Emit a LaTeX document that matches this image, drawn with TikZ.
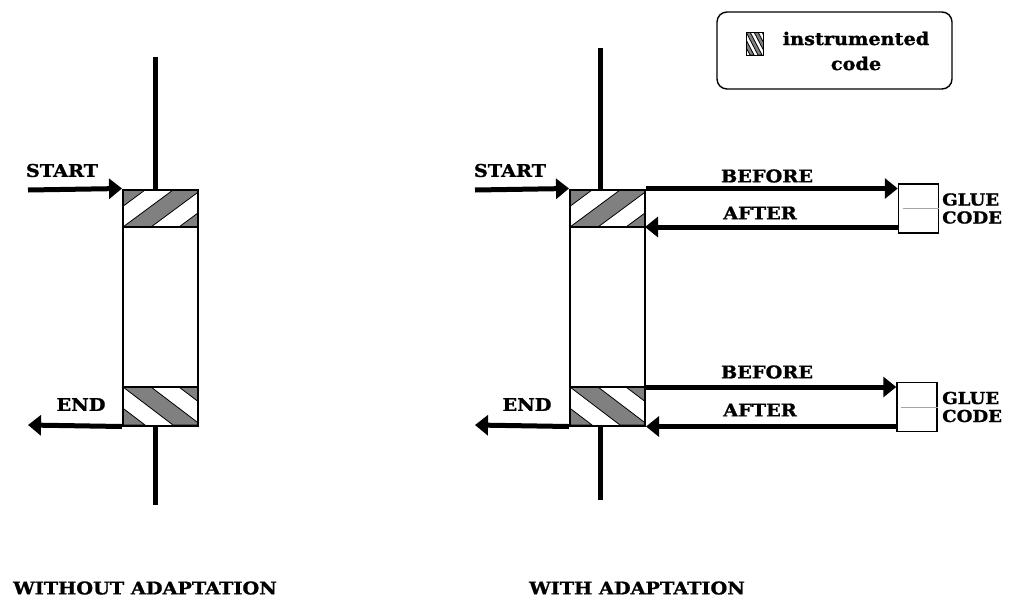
\documentclass[tikz,border=0pt]{standalone}
\usepackage{fontspec}
\setmainfont[FakeStretch=1.1, BoldFeatures={FakeBold=1.2}]{DejaVu Serif}
\usetikzlibrary{arrows.meta,positioning,calc}

% hatched band: x0, x1, y start, y end, run, period
\newcommand{\hatchband}[6]{%
  \begin{scope}
    \clip (#1,#3) rectangle (#2,#4);
    \foreach \s in {-3,...,3}{
      \filldraw[hatchfill] ({#1+\s*#6},#3) -- ({#1+\s*#6+#5},#4)
        -- ({#1+\s*#6+#5+#6/2},#4) -- ({#1+\s*#6+#6/2},#3) -- cycle;
    }
  \end{scope}}

\tikzset{
  hatchfill/.style={fill=black!50, draw=black, line width=0.8pt},
  modbox/.style={draw, line width=2pt, minimum width=75pt, minimum height=236pt, inner sep=0pt},
  gluebox/.style={draw, line width=1.5pt, minimum width=40pt, minimum height=49pt, inner sep=0pt},
  legendbox/.style={draw, line width=1.4pt, rounded corners=10pt, minimum width=235pt, minimum height=77pt},
  flow/.style={line width=5pt, -{Triangle[length=13pt,width=20pt]}},
  stem/.style={line width=5pt},
  lbl/.style={font=\fontsize{17.5}{20}\selectfont\bfseries, inner sep=0pt},
  gluelbl/.style={font=\fontsize{16.5}{18}\selectfont\bfseries, inner sep=0pt, align=left, anchor=west},
}

\begin{document}
\begin{tikzpicture}[x=1pt, y=-1pt]
\useasboundingbox (0,0) rectangle (1016,598);

% left: without adaptation
\hatchband{123}{198}{227}{190}{50}{56}
\hatchband{123}{198}{387}{425}{50}{56}
\node[modbox] (lmod) at (160.5,307.5) {};
\draw[line width=2pt] (123,227) -- (198,227);
\draw[line width=2pt] (123,387) -- (198,387);
\coordinate (ltop) at (155,57);
\coordinate (lbot) at (155,505);
\draw[stem] (ltop) -- (ltop |- lmod.north);
\draw[stem] (lbot |- lmod.south) -- (lbot);
\coordinate (lstart) at (28,190);
\coordinate (lend) at (28,425);
\draw[flow] (lstart) -- (lmod.north west);
\draw[flow] (lmod.south west) -- (lend);
\node[lbl] (lstartlbl) at (62,170.5) {START};
\node[lbl] (lendlbl) at (81,404.5) {END};
\node[lbl] (lcap) at (145,588) {WITHOUT ADAPTATION};

% right: with adaptation
\hatchband{570}{645}{227}{190}{50}{56}
\hatchband{570}{645}{387}{425}{50}{56}
\node[modbox] (rmod) at (607.5,307.5) {};
\draw[line width=2pt] (570,227) -- (645,227);
\draw[line width=2pt] (570,387) -- (645,387);
\coordinate (rtop) at (600,48);
\coordinate (rbot) at (600,500);
\draw[stem] (rtop) -- (rtop |- rmod.north);
\draw[stem] (rbot |- rmod.south) -- (rbot);
\coordinate (rstart) at (475,190);
\coordinate (rend) at (475,425);
\draw[flow] (rstart) -- (rmod.north west);
\draw[flow] (rmod.south west) -- (rend);
\node[lbl] (rstartlbl) at (510,170.5) {START};
\node[lbl] (rendlbl) at (527,404.5) {END};
\node[lbl] (rcap) at (637,588) {WITH ADAPTATION};

% glue code
\node[gluebox] (gtop) at (918.5,208.5) {};
\node[gluebox] (gbot) at (917,407) {};
\draw[gray!70, line width=1pt] ($(gtop.west)+(5,0)$) -- (gtop.east);
\draw[gray!70, line width=1pt] ($(gbot.west)+(5,0)$) -- (gbot.east);
\coordinate (rtopband) at (645,227);
\coordinate (rbotband) at (645,387);
\draw[flow] (rmod.north east) -- (rmod.north east -| gtop.west);
\draw[flow] (rtopband -| gtop.west) -- (rtopband);
\draw[flow] (rbotband) -- (rbotband -| gbot.west);
\draw[flow] (gbot.west |- rmod.south) -- (rmod.south east);
\node[lbl] (before1) at (767,176) {BEFORE};
\node[lbl] (after1) at (760,213) {AFTER};
\node[lbl] (before2) at (767,372) {BEFORE};
\node[lbl] (after2) at (760,410) {AFTER};
\node[gluelbl] (glue1) at (942,208.5) {GLUE\\CODE};
\node[gluelbl] (glue2) at (942,407) {GLUE\\CODE};

% legend
\node[legendbox] (legend) at (834.5,50.5) {};
\hatchband{746}{763}{32}{55}{12}{8}
\draw[line width=1pt] (746,32) rectangle (763,55);
\node[lbl, align=center, font=\fontsize{17.5}{25}\selectfont\bfseries] (legtxt) at (856,51) {instrumented\\code};
\end{tikzpicture}
\end{document}
